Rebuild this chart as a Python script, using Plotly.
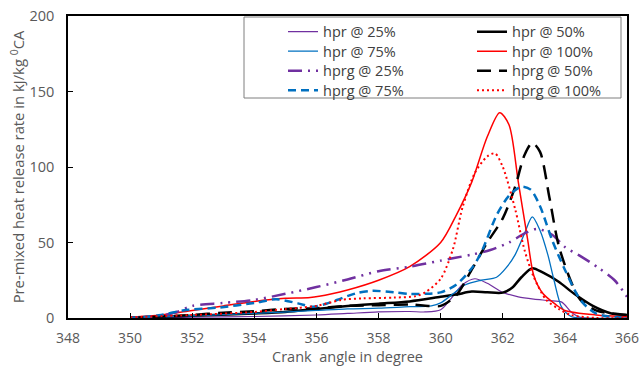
import plotly.graph_objects as go

# ---- data (crank angle in degree, heat release rate in kJ/kg °CA) ----
hpr25_x = [350, 352, 354, 356, 357, 358, 359, 359.5, 360, 360.3, 360.7, 361.1, 361.5, 362, 362.5, 363, 363.5, 363.9, 364.2, 364.5, 366]
hpr25_y = [0, 0.5, 1, 2, 3, 4, 4.3, 4, 5.5, 12, 22, 26, 23, 17, 14, 12.5, 11.5, 10.5, 4, 0.5, 0]

hpr50_x = [350, 352, 354, 355, 356, 357, 358, 359, 360, 360.5, 361, 361.5, 362, 362.3, 362.6, 362.95, 363.3, 363.8, 364.3, 364.9, 365.5, 366]
hpr50_y = [0, 1.5, 3, 4, 6, 8, 9.5, 11, 14, 15.5, 17.5, 17, 16.8, 20, 27, 33, 30, 24, 16, 8, 3, 2]

hpr75_x = [350, 352, 354, 356, 357, 358, 359, 359.7, 360, 360.4, 360.8, 361.3, 361.8, 362.1, 362.4, 362.7, 362.95, 363.2, 363.45, 363.65, 363.9, 364.2, 364.5, 366]
hpr75_y = [0, 1.5, 3, 5, 6, 6.5, 7.5, 8, 10, 16, 22, 25, 27, 33, 42, 56, 67, 58, 42, 25, 7, 1, 0, 0]

hpr100_x = [350, 351, 352, 353, 354, 355, 355.8, 356.5, 357, 358, 359, 360, 360.5, 361, 361.5, 361.9, 362.2, 362.5, 362.8, 363, 363.3, 363.7, 364, 365, 366]
hpr100_y = [0.5, 2, 5, 8, 11, 13, 13.5, 16, 18.5, 25, 34, 50, 68, 90, 120, 136, 128, 90, 52, 28, 16, 9, 5, 2, 1]

hprg25_x = [350, 351, 351.5, 352, 353, 354, 355, 356, 357, 358, 359, 360, 361, 361.6, 362.2, 362.7, 363.1, 363.6, 364, 364.5, 365.1, 365.6, 366]
hprg25_y = [0, 1.5, 4, 8, 10, 12, 16, 20.5, 25.5, 31, 34, 38, 42, 45, 50, 56, 59, 55, 47, 41, 33, 25, 14]

hprg50_x = [350, 351, 352, 353, 354, 355, 356, 357, 358, 359, 359.6, 360, 360.5, 361, 361.5, 362, 362.4, 362.7, 362.95, 363.2, 363.5, 363.8, 364.2, 364.5, 365, 365.5, 366]
hprg50_y = [0, 1, 2, 3.5, 4.5, 6, 6.5, 8, 8.5, 9, 8, 8, 15, 32, 50, 66, 87, 108, 116, 110, 80, 48, 24, 12, 5, 3, 2]

hprg75_x = [350, 351, 351.7, 352.9, 354, 354.7, 355.4, 355.9, 356.4, 356.8, 357.3, 357.8, 358.5, 359, 359.5, 360, 360.5, 361, 361.3, 361.8, 362.2, 362.6, 362.9, 363.2, 363.6, 364, 364.5, 365, 366]
hprg75_y = [0, 2, 5, 7, 10, 12.4, 9.7, 7.5, 10, 13, 16.5, 18, 17, 16, 16, 17, 22, 33, 43, 68, 81, 87, 85, 74, 51, 32, 12, 3, 0]

hprg100_x = [350, 352, 354, 355, 356, 356.8, 357.5, 358.5, 359.2, 359.5, 360, 360.4, 360.7, 361.1, 361.5, 361.75, 362, 362.4, 362.7, 363, 363.4, 363.8, 364.2, 365, 366]
hprg100_y = [0.5, 2, 4, 6, 8, 12, 13, 13.5, 14.5, 17, 26, 46, 73, 96, 107, 109, 100, 72, 45, 27, 12, 6, 2, 0, 0]

names = ["hpr @ 25%", "hpr @ 50%", "hpr @ 75%", "hpr @ 100%",
         "hprg @ 25%", "hprg @ 50%", "hprg @ 75%", "hprg @ 100%"]
x_ticks = [348, 350, 352, 354, 356, 358, 360, 362, 364, 366]
y_ticks = [0, 50, 100, 150, 200]

series = [(hpr25_x, hpr25_y), (hpr50_x, hpr50_y), (hpr75_x, hpr75_y), (hpr100_x, hpr100_y),
          (hprg25_x, hprg25_y), (hprg50_x, hprg50_y), (hprg75_x, hprg75_y), (hprg100_x, hprg100_y)]

PURPLE = "#7030A0"
BLUE = "#0070C0"
RED = "#FF0000"
BLACK = "#000000"
styles = [
    dict(color=PURPLE, width=1.2, dash="solid"),
    dict(color=BLACK, width=2.5, dash="solid"),
    dict(color=BLUE, width=1.3, dash="solid"),
    dict(color=RED, width=1.5, dash="solid"),
    dict(color=PURPLE, width=2.5, dash="14px,6px,2px,6px,2px,6px"),
    dict(color=BLACK, width=2.5, dash="14px,8px"),
    dict(color=BLUE, width=2.5, dash="8px,5px"),
    dict(color=RED, width=2, dash="2px,3px"),
]

# plot area in pixels: x 68..627, y 16..318
PW, PH = 559.0, 302.0
FONT = "Open Sans"
col_x = [283, 472]                 # legend-box left per column (px)
row_c = [30.7, 50.2, 69.7, 89.2]   # legend row centres (px)

fig = go.Figure()
legends = {}
for i, ((xs, ys), nm, st) in enumerate(zip(series, names, styles)):
    key = "legend" if i == 0 else f"legend{i + 1}"
    fig.add_trace(go.Scatter(x=xs, y=ys, mode="lines", name=nm, legend=key,
                             line=dict(shape="spline", smoothing=0.8, **st)))
    r, c = divmod(i, 2)
    legends[key] = dict(x=(col_x[c] - 68) / PW, y=1 - (row_c[r] - 15 - 16) / PH,
                        orientation="v", xanchor="left", yanchor="top",
                        borderwidth=0, bgcolor="rgba(0,0,0,0)",
                        font=dict(family=FONT, size=14.5, color="#404040"))

fig.update_layout(
    width=641, height=366,
    margin=dict(l=68, r=14, t=16, b=48),
    paper_bgcolor="white", plot_bgcolor="white",
    font=dict(family=FONT, size=14, color="#595959"),
    showlegend=True,
    shapes=[dict(type="rect", xref="paper", yref="paper",
                 x0=(244 - 68) / PW, x1=(621 - 68) / PW,
                 y0=1 - (98 - 16) / PH, y1=1 - (17 - 16) / PH,
                 line=dict(color="#7f7f7f", width=1), fillcolor="white", layer="below")],
    **legends,
)
fig.update_xaxes(range=[348, 366], tickvals=x_ticks, ticks="inside", ticklen=5,
                 tickcolor="black", showline=True, linecolor="black", linewidth=1.5,
                 mirror=True, showgrid=False, zeroline=False, ticklabelstandoff=6,
                 automargin=False, tickfont=dict(size=14),
                 title=dict(text="Crank  angle in degree", standoff=2,
                            font=dict(family=FONT, size=14.5, color="#595959")))
fig.update_yaxes(range=[0, 200], tickvals=y_ticks, ticks="inside", ticklen=5,
                 tickcolor="black", showline=True, linecolor="black", linewidth=1.5,
                 mirror=True, showgrid=False, zeroline=False, ticklabelstandoff=9,
                 automargin=False, tickfont=dict(size=14.5),
                 title=dict(text="Pre-mixed heat release rate in kJ/kg <sup>0</sup>CA", standoff=1,
                            font=dict(family=FONT, size=14.8, color="#595959")))

fig.write_html("out.html")
